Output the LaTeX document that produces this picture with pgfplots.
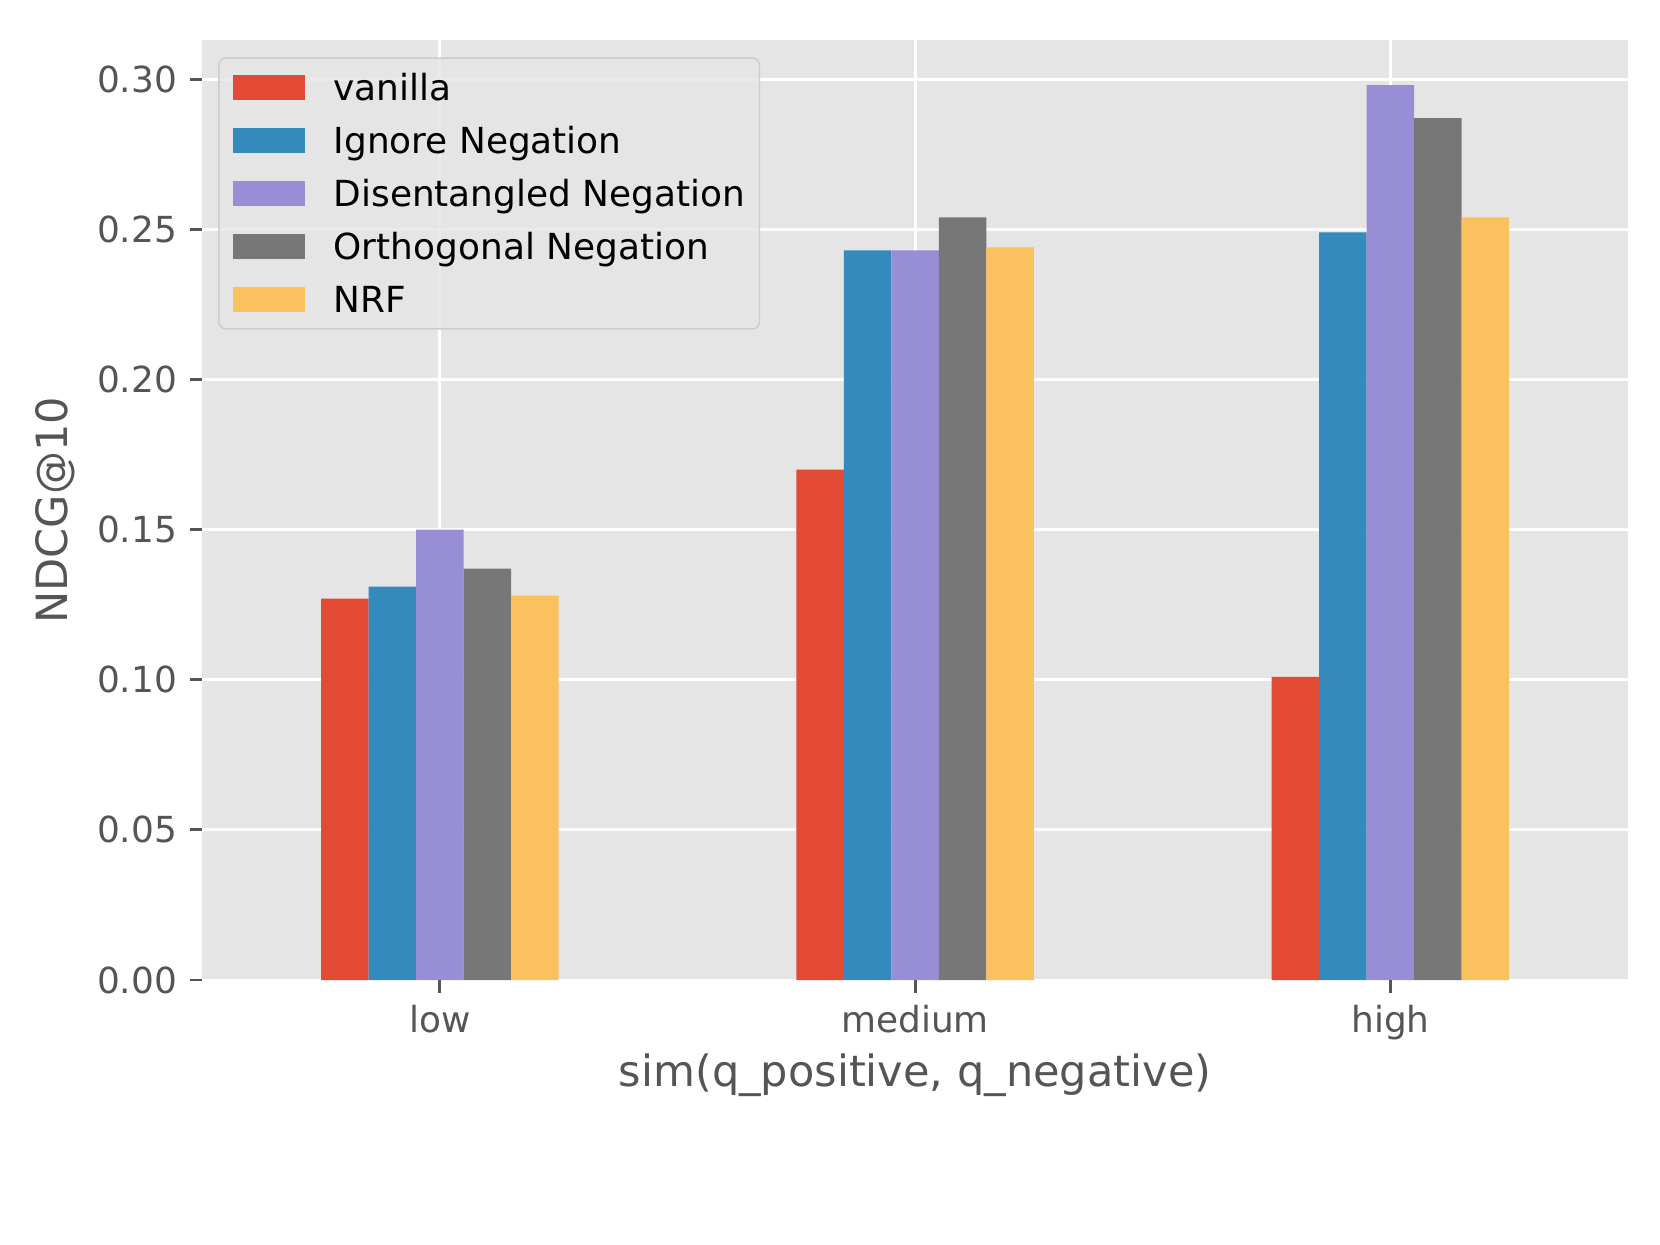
\documentclass[border=0pt]{standalone}
\usepackage{fontspec}
\setmainfont{DejaVu Sans}
\usepackage{pgfplots}
\pgfplotsset{compat=1.18}

\definecolor{cvan}{HTML}{E24A33}
\definecolor{cign}{HTML}{348ABD}
\definecolor{cdis}{HTML}{988ED5}
\definecolor{cort}{HTML}{777777}
\definecolor{cnrf}{HTML}{FBC15E}
\definecolor{bgc}{HTML}{E5E5E5}
\definecolor{txtgray}{HTML}{555555}
\definecolor{legedge}{HTML}{CCCCCC}

\begin{document}
\begin{tikzpicture}
\path[use as bounding box] (-0.7795in,-1.0215in) rectangle (5.6205in,3.7785in);
\begin{axis}[
    at={(0,0)}, anchor=south west,
    scale only axis,
    width=5.4974in, height=3.6226in,
    ybar, bar width=0.1,
    xmin=-0.5, xmax=2.5,
    ymin=0, ymax=0.3129,
    xtick={0,1,2},
    xticklabels={low,medium,high},
    ytick={0,0.05,0.10,0.15,0.20,0.25,0.30},
    yticklabel style={/pgf/number format/.cd, fixed, fixed zerofill, precision=2},
    /pgf/number format/assume math mode=true,
    tick pos=left,
    tick align=outside,
    major tick length=3.5pt,
    tick style={color=txtgray, line width=0.8pt},
    ticklabel style={font=\fontsize{10}{12}\selectfont, text=txtgray},
    axis line style={draw=none},
    axis background/.style={fill=bgc},
    grid=major,
    grid style={white, line width=0.8pt},
    xlabel={sim(q\_positive, q\_negative)},
    ylabel={NDCG@10},
    label style={font=\fontsize{12}{14}\selectfont, text=txtgray},
    xlabel style={at={(axis description cs:0.5,-0.1008)}, anchor=center},
    ylabel style={at={(axis description cs:-0.103,0.5)}, anchor=center},
    % the patch is an overlay, so the cell keeps the box of the invisible path
    legend image code/.code={
        \path[draw=none, fill=none] (0pt,0pt) rectangle (20pt,7pt);
        \fill[#1, sharp corners, fill opacity=1, overlay] (0pt,-2.4pt) rectangle (20pt,4.6pt);
    },
    legend cell align=left,
    legend style={
        at={(0.0112,0.982)}, anchor=north west,
        fill=bgc, fill opacity=0.8, text opacity=1,
        draw=legedge, rounded corners=2pt,
        inner xsep=4pt, inner ysep=2.2pt,
        font=\fontsize{10}{12}\selectfont,
        nodes={inner sep=0pt, text height=7.6pt, text depth=2.4pt},
        row sep=2.77pt,
        /tikz/every odd column/.append style={column sep=8pt},
    },
]

\addplot[fill=cvan, draw=none, bar shift=-0.2] coordinates {(0,0.127) (1,0.170) (2,0.101)};
\addplot[fill=cign, draw=none, bar shift=-0.1] coordinates {(0,0.131) (1,0.243) (2,0.249)};
\addplot[fill=cdis, draw=none, bar shift=0]    coordinates {(0,0.150) (1,0.243) (2,0.298)};
\addplot[fill=cort, draw=none, bar shift=0.1]  coordinates {(0,0.137) (1,0.254) (2,0.287)};
\addplot[fill=cnrf, draw=none, bar shift=0.2]  coordinates {(0,0.128) (1,0.244) (2,0.254)};

\legend{vanilla,Ignore Negation,Disentangled Negation,Orthogonal Negation,NRF}
\end{axis}
\end{tikzpicture}
\end{document}
